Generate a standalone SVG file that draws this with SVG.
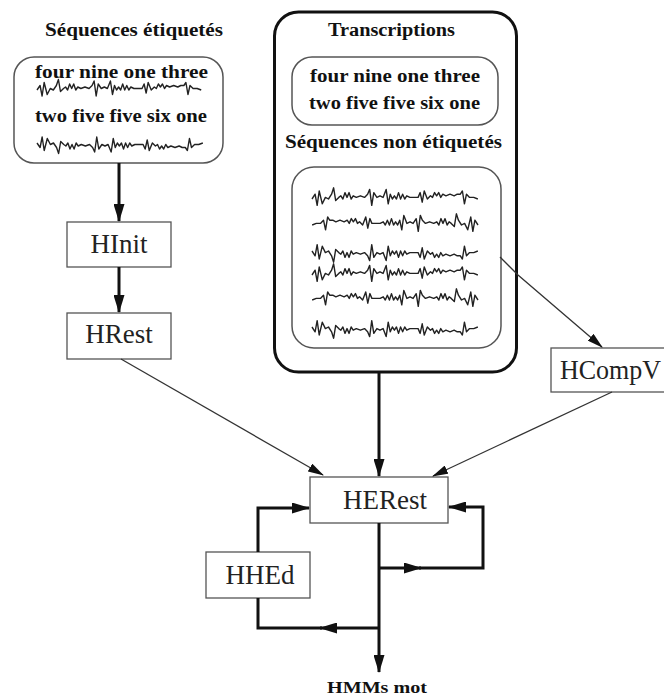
<svg xmlns="http://www.w3.org/2000/svg" width="664" height="698" viewBox="0 0 664 698">
<style>
.lbl{font-family:"Liberation Serif","Times New Roman",serif;font-weight:bold;fill:#111;}
.node{font-family:"Liberation Serif","Times New Roman",serif;font-size:27px;fill:#222;}
.box{fill:#fff;stroke:#555;stroke-width:1.3;}
.rbox{fill:#fff;stroke:#555;stroke-width:1.5;}
.wave{fill:none;stroke:#222;stroke-width:1.4;stroke-linejoin:round;vector-effect:non-scaling-stroke;}
.thin{fill:none;stroke:#333;stroke-width:1.3;}
.thick{fill:none;stroke:#111;stroke-width:3;}
</style>
<defs>
<path id="w" class="wave" d="M0,0 l3,-3 l2,7 l2,-9 l3,8 l3,-4 l3,1 l3,-3 l2,-4 l2,8 l3,-2 l2,-1 l2,2 l2,-4 l2,3 l2,-3 l2,4 l2,-2 l3,1 l4,-1 l4,1 l3,-2 l2,-3 l2,10 l2,-8 l3,3 l3,-1 l3,1 l3,-5 l2,9 l2,-6 l2,3 l2,-2 l2,2 l2,-4 l2,4 l2,-3 l2,3 l2,-2 l3,1 l4,0 l4,0 l2,-3 l2,6 l2,-7 l3,5 l3,-2 l2,1 l2,-3 l2,2 l2,-2 l2,3 l2,-2 l3,1 l4,-1 l4,1 l3,-1 l3,0 l2,-2 l2,8 l2,-6 l3,2 l4,0 l4,1"/>
<marker id="ah" markerUnits="userSpaceOnUse" markerWidth="18" markerHeight="11" refX="17" refY="5.5" orient="auto"><path d="M0,0 L18,5.5 L0,11 z" fill="#111"/></marker>
<marker id="at" markerUnits="userSpaceOnUse" markerWidth="16" markerHeight="9" refX="15" refY="4.5" orient="auto"><path d="M0,0 L16,4.5 L0,9 z" fill="#111"/></marker>
</defs>

<g id="labelled">
<text class="lbl" x="134" y="36" font-size="18" text-anchor="middle" textLength="178" lengthAdjust="spacingAndGlyphs">Séquences étiquetés</text>
<rect class="rbox" x="14" y="57" width="209" height="106" rx="20"/>
<text class="lbl" x="35" y="78" font-size="19.5" textLength="173" lengthAdjust="spacingAndGlyphs">four nine one three</text>
<use href="#w" transform="translate(37,90) scale(1.02,1.5)"/>
<text class="lbl" x="35" y="122" font-size="19.5" textLength="172" lengthAdjust="spacingAndGlyphs">two five five six one</text>
<use href="#w" transform="translate(37,143) scale(1.03,-1.5)"/>
</g>

<g id="unlabelled">
<rect x="274.5" y="12" width="242" height="360" rx="24" fill="#fff" stroke="#111" stroke-width="3"/>
<text class="lbl" x="328" y="36" font-size="18" textLength="127" lengthAdjust="spacingAndGlyphs">Transcriptions</text>
<rect class="rbox" x="292" y="57" width="206" height="68" rx="20"/>
<text class="lbl" x="310" y="82" font-size="19.5" textLength="170" lengthAdjust="spacingAndGlyphs">four nine one three</text>
<text class="lbl" x="309" y="109" font-size="19.5" textLength="171" lengthAdjust="spacingAndGlyphs">two five five six one</text>
<text class="lbl" x="285" y="148" font-size="19" textLength="217" lengthAdjust="spacingAndGlyphs">Séquences non étiquetés</text>
<rect class="rbox" x="292" y="167" width="209" height="181" rx="22"/>
<use href="#w" transform="translate(312,199) scale(1.03,1.6)"/>
<use href="#w" transform="translate(478,225) scale(-1.03,1.6)"/>
<use href="#w" transform="translate(312,251) scale(1.03,-1.6)"/>
<use href="#w" transform="translate(312,275) scale(1.03,1.6)"/>
<use href="#w" transform="translate(478,300) scale(-1.03,1.6)"/>
<use href="#w" transform="translate(312,327) scale(1.03,-1.6)"/>
</g>

<g id="HInit">
<rect class="box" x="67" y="222" width="104" height="45"/>
<text class="node" x="119" y="253" text-anchor="middle">HInit</text>
</g>
<g id="HRest">
<rect class="box" x="67" y="313" width="104" height="46"/>
<text class="node" x="119" y="343" text-anchor="middle">HRest</text>
</g>
<g id="HCompV">
<rect class="box" x="551" y="348" width="130" height="44"/>
<text class="node" x="560" y="379" font-size="26" textLength="101" lengthAdjust="spacingAndGlyphs">HCompV</text>
</g>
<g id="HERest">
<rect class="box" x="310" y="477" width="138" height="46"/>
<text class="node" x="385" y="509" text-anchor="middle">HERest</text>
</g>
<g id="HHEd">
<rect class="box" x="206" y="552" width="104" height="46"/>
<text class="node" x="260" y="584" text-anchor="middle">HHEd</text>
</g>
<g id="output">
<text class="lbl" x="377" y="693" font-size="16" text-anchor="middle" textLength="100" lengthAdjust="spacingAndGlyphs">HMMs mot</text>
</g>

<g id="connectors">
<path class="thick" d="M119,163 V221" stroke-width="2.5" marker-end="url(#ah)"/>
<path class="thick" d="M119,267 V312" stroke-width="2.5" marker-end="url(#ah)"/>
<path class="thin" d="M121,359 L323,475" marker-end="url(#at)"/>
<path class="thin" d="M500,257 L518,275 L602,347" marker-end="url(#at)"/>
<path class="thin" d="M612,392 L433,476" marker-end="url(#at)"/>
<path class="thick" d="M379,373 V476" marker-end="url(#ah)"/>
<path class="thick" d="M379,523 V672" marker-end="url(#ah)"/>
<path class="thick" d="M379,568 H421" marker-end="url(#ah)"/>
<path class="thick" d="M419,568 H483 V507 H449" stroke-width="3.5" marker-end="url(#ah)"/>
<path class="thick" d="M379,628 H320" marker-end="url(#ah)"/>
<path class="thick" d="M322,628 H258 V598"/>
<path class="thick" d="M258,552 V508 H309" marker-end="url(#ah)"/>
</g>
</svg>
